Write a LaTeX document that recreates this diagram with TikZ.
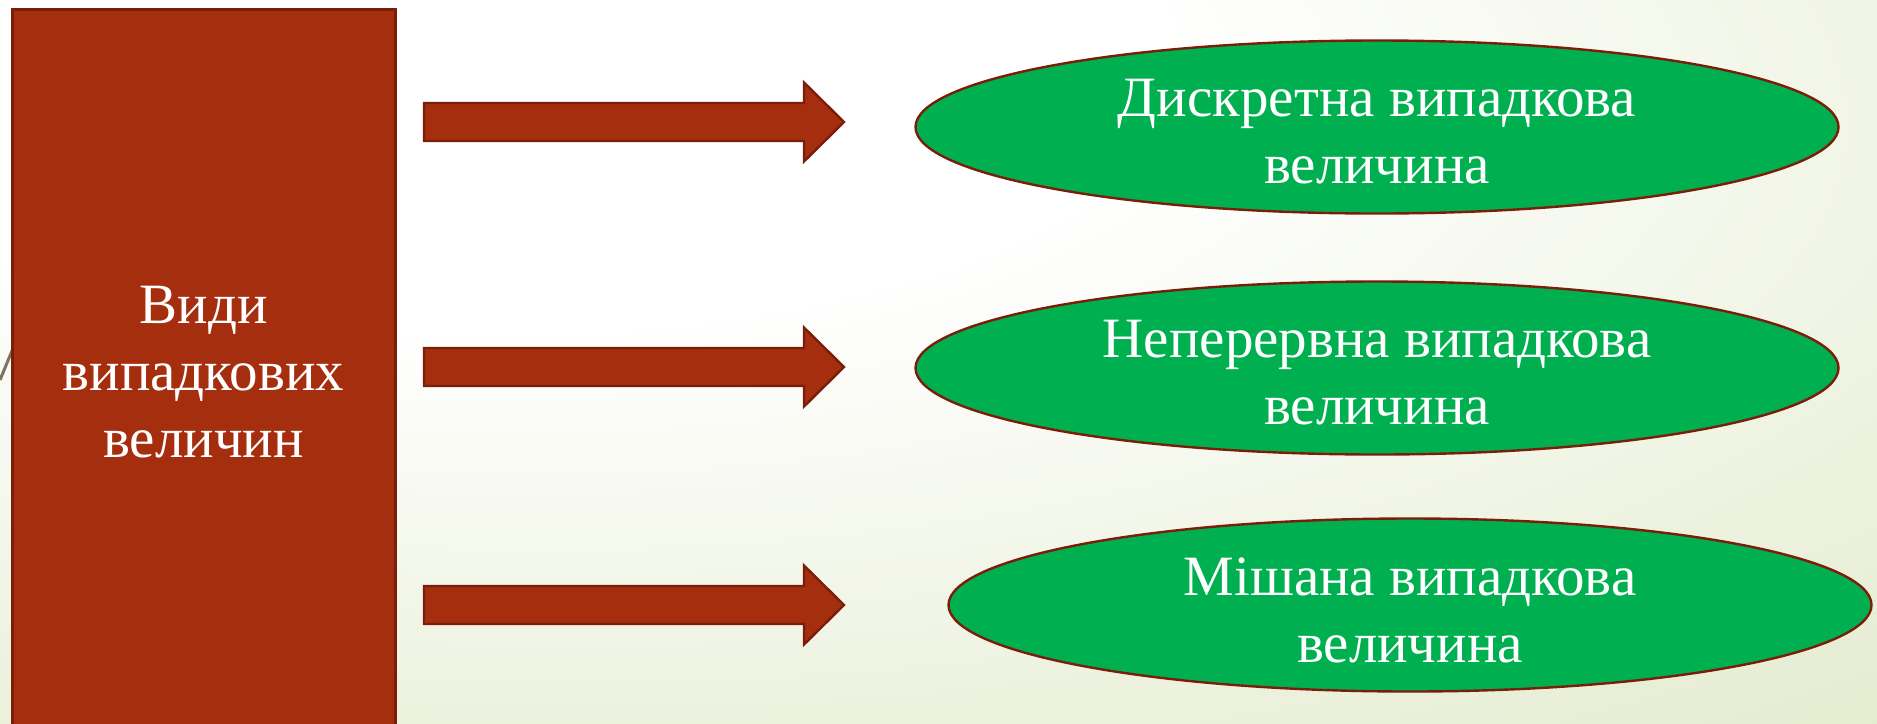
\documentclass[tikz,border=0pt]{standalone}
\usepackage{fontspec}
\setmainfont{Liberation Serif}
\usetikzlibrary{shapes.geometric}
\definecolor{bggreen}{RGB}{224,233,200}
\definecolor{rust}{RGB}{165,46,15}
\definecolor{rustdark}{RGB}{122,30,10}
\definecolor{leafgreen}{RGB}{0,176,80}
\definecolor{decor}{RGB}{125,115,95}
\pgfdeclareradialshading{bgshade}{\pgfpoint{-15bp}{25bp}}{color(0bp)=(white); color(18bp)=(white); color(55bp)=(bggreen); color(100bp)=(bggreen)}
\begin{document}
\begin{tikzpicture}[x=0.5pt,y=-0.5pt,
  bigtext/.style={font=\fontsize{28.5}{33.5}\selectfont, text=white, align=center, inner sep=0pt},
  box/.style={draw=rustdark, line width=1.5pt, fill=rust},
  blockarrow/.style={draw=rustdark, line width=1.2pt, fill=rust, line join=miter},
  oval/.style={ellipse, draw=rustdark, line width=1.2pt, fill=leafgreen, minimum width=461.5pt, minimum height=86.5pt, inner sep=0pt},
]
\shade[shading=bgshade] (0,0) rectangle (1877,723);
\useasboundingbox (0,0) rectangle (1877,723);
\draw[decor, line width=1.5pt] (0,380) -- (14,346);
% left box
\draw[box] (12,9) rectangle (395,740);
\node[bigtext] (kinds) at (203.5,372) {Види\\випадкових\\величин};
% arrows
\foreach \c/\n in {122/a1,367/a2,605/a3}{
  \draw[blockarrow] (424,\c-19) -- (804,\c-19) -- (804,\c-39.5) -- (844,\c) coordinate (\n)
     -- (804,\c+39.5) -- (804,\c+19) -- (424,\c+19) -- cycle;
}
% ellipses
\node[oval] (e1) at (1377,127) {};
\node[bigtext] (t1) at (1377,132) {Дискретна випадкова\\величина};
\node[oval] (e2) at (1377,368) {};
\node[bigtext] (t2) at (1377,373) {Неперервна випадкова\\величина};
\node[oval] (e3) at (1410,605) {};
\node[bigtext] (t3) at (1410,610) {Мішана випадкова\\величина};
\end{tikzpicture}
\end{document}
